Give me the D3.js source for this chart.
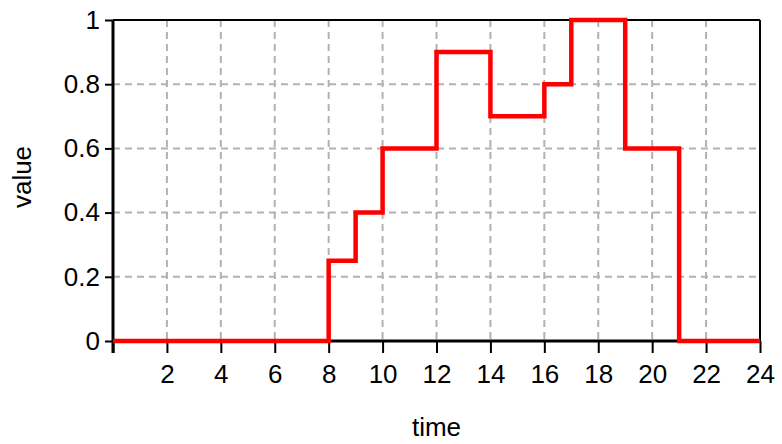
<!DOCTYPE html>
<html>
<head>
<meta charset="utf-8">
<script src="https://cdn.jsdelivr.net/npm/d3@7"></script>
<style>
  body { margin: 0; background: #fff; }
  text { font-family: "Liberation Sans", Arial, sans-serif; }
</style>
</head>
<body>
<div id="chart"></div>
<script>
// step data (value holds from each time until the next one)
var stepTimes = [0, 8, 9, 10, 12, 14, 16, 17, 19, 21, 24];
var stepValues = [0, 0.25, 0.4, 0.6, 0.9, 0.7, 0.8, 1.0, 0.6, 0, 0];

var xTicks = [0, 2, 4, 6, 8, 10, 12, 14, 16, 18, 20, 22, 24];
var yTicks = [0, 0.2, 0.4, 0.6, 0.8, 1];
var yTickLabels = ["0", "0.2", "0.4", "0.6", "0.8", "1"];

var svgWidth = 782;
var svgHeight = 444;
var margin = { top: 20, right: 22, bottom: 103, left: 113 };
var width = svgWidth - margin.left - margin.right;
var height = svgHeight - margin.top - margin.bottom;

var svg = d3.select("#chart").append("svg")
  .attr("width", svgWidth)
  .attr("height", svgHeight);

var chartGroup = svg.append("g")
  .attr("transform", `translate(${margin.left}, ${margin.top})`);

var xScale = d3.scaleLinear().domain([0, 24]).range([0, width]);
var yScale = d3.scaleLinear().domain([0, 1]).range([height, 0]);

// dashed grid
chartGroup.append("g")
  .selectAll("line")
  .data(xTicks.filter(d => d > 0 && d < 24))
  .enter().append("line")
  .attr("x1", d => xScale(d)).attr("x2", d => xScale(d))
  .attr("y1", 0).attr("y2", height)
  .attr("stroke", "#b2b2b2").attr("stroke-width", 2)
  .attr("stroke-dasharray", "7,5");

chartGroup.append("g")
  .selectAll("line")
  .data(yTicks.filter(d => d > 0 && d < 1))
  .enter().append("line")
  .attr("x1", 0).attr("x2", width)
  .attr("y1", d => yScale(d)).attr("y2", d => yScale(d))
  .attr("stroke", "#b2b2b2").attr("stroke-width", 2)
  .attr("stroke-dasharray", "7,5");

// frame: top and right thin, left and bottom heavier
chartGroup.append("line")
  .attr("x1", 0).attr("x2", width).attr("y1", 0).attr("y2", 0)
  .attr("stroke", "#000").attr("stroke-width", 2);
chartGroup.append("line")
  .attr("x1", width).attr("x2", width).attr("y1", 0).attr("y2", height)
  .attr("stroke", "#000").attr("stroke-width", 2);

var bottomAxis = d3.axisBottom(xScale)
  .tickValues(xTicks)
  .tickFormat(d => d === 0 ? "" : d)
  .tickSize(12)
  .tickSizeOuter(0)
  .tickPadding(12);

var leftAxis = d3.axisLeft(yScale)
  .tickValues(yTicks)
  .tickFormat((d, i) => yTickLabels[i])
  .tickSize(8)
  .tickSizeOuter(0)
  .tickPadding(5);

var xAxis = chartGroup.append("g")
  .attr("transform", `translate(0, ${height})`)
  .call(bottomAxis);
xAxis.select(".domain").remove();
xAxis.selectAll(".tick line").attr("stroke", "#000").attr("stroke-width", 2);
xAxis.selectAll("text").attr("font-size", 26).attr("fill", "#000");

var yAxis = chartGroup.append("g").call(leftAxis);
yAxis.select(".domain").remove();
yAxis.selectAll(".tick line").attr("stroke", "#000").attr("stroke-width", 2);
yAxis.selectAll("text").attr("font-size", 26).attr("fill", "#000");

chartGroup.append("line")
  .attr("x1", 0).attr("x2", width).attr("y1", height).attr("y2", height)
  .attr("stroke", "#000").attr("stroke-width", 3);
chartGroup.append("line")
  .attr("x1", 0).attr("x2", 0).attr("y1", 0).attr("y2", height + 12)
  .attr("stroke", "#000").attr("stroke-width", 3);

// the step line
var stepData = stepTimes.map((t, i) => ({ t: t, v: stepValues[i] }));
var stepLine = d3.line()
  .x(d => xScale(d.t))
  .y(d => yScale(d.v))
  .curve(d3.curveStepAfter);

chartGroup.append("path")
  .datum(stepData)
  .attr("d", stepLine)
  .attr("fill", "none")
  .attr("stroke", "#ff0000")
  .attr("stroke-width", 4.5)
  .attr("stroke-linejoin", "miter");

// axis titles
svg.append("text")
  .attr("x", margin.left + xScale(12))
  .attr("y", 436)
  .attr("text-anchor", "middle")
  .attr("font-size", 26)
  .text("time");

svg.append("text")
  .attr("transform", "translate(31, 177) rotate(-90)")
  .attr("text-anchor", "middle")
  .attr("font-size", 26)
  .text("value");
</script>
</body>
</html>
